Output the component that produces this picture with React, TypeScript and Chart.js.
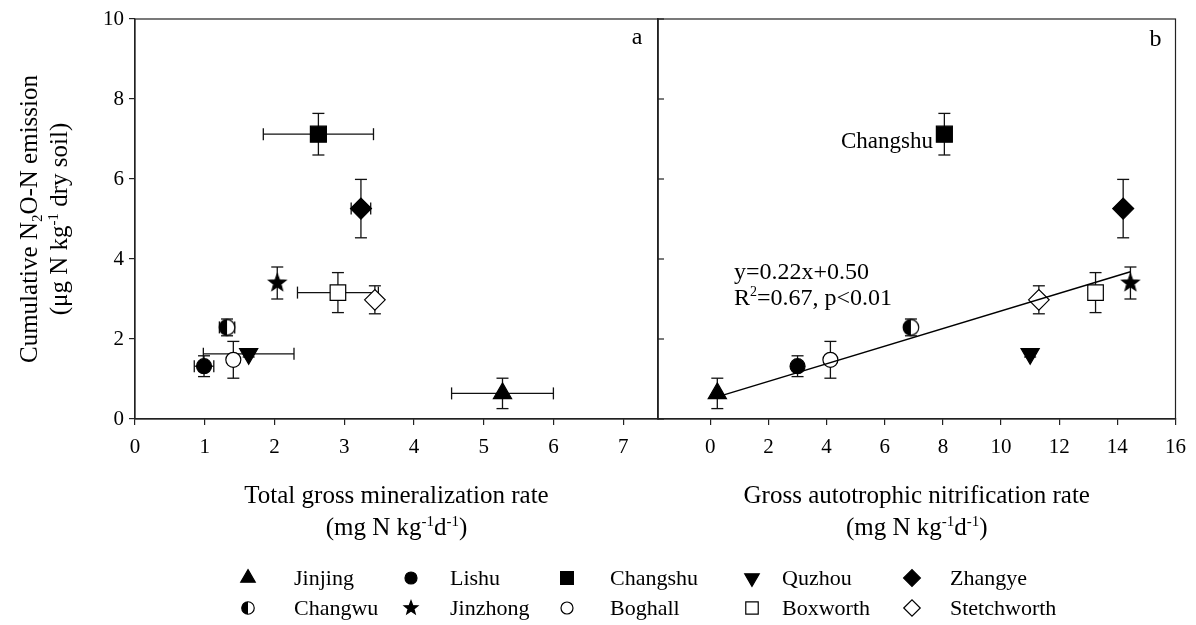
import React, { useEffect, useRef } from 'react';
import { Chart, registerables } from 'chart.js';

Chart.register(...registerables);

const W = 1196;
const H = 625;
const FONT = '"Liberation Serif", "Times New Roman", Times, serif';

// Sites, in legend order
const SITES = ['Jinjing', 'Lishu', 'Changshu', 'Quzhou', 'Zhangye', 'Changwu', 'Jinzhong', 'Boghall', 'Boxworth', 'Stetchworth'];

// Cumulative N2O-N emission (µg N kg-1 dry soil) and its standard error
const N2O = [0.64, 1.32, 7.12, 1.63, 5.26, 2.29, 3.4, 1.48, 3.16, 2.98];
const N2O_ERR = [0.38, 0.26, 0.52, 0.08, 0.73, 0.21, 0.4, 0.46, 0.5, 0.35];

// Panel a: total gross mineralization rate (mg N kg-1 d-1) and its standard error
const MINERALIZATION = [5.27, 0.99, 2.63, 1.63, 3.24, 1.32, 2.04, 1.41, 2.91, 3.44];
const MINERALIZATION_ERR = [0.73, 0.14, 0.79, 0.65, 0.14, 0.11, 0, 0, 0.58, 0.05];

// Panel b: gross autotrophic nitrification rate (mg N kg-1 d-1)
const NITRIFICATION = [0.24, 3.0, 8.05, 11.0, 14.2, 6.9, 14.45, 4.13, 13.25, 11.3];

// Linear fit shown in panel b
const FIT_SLOPE = 0.22;
const FIT_INTERCEPT = 0.5;
const FIT_X_RANGE = [0.24, 14.45];

// Axis ticks
const Y_TICKS = [0, 2, 4, 6, 8, 10];
const MIN_TICKS = [0, 1, 2, 3, 4, 5, 6, 7];
const NIT_TICKS = [0, 2, 4, 6, 8, 10, 12, 14, 16];

type Shape = 'triangle' | 'circle' | 'rect' | 'rectRot' | 'star' | 'half';
type Marker = { shape: Shape; filled: boolean; r: number; rot?: number };

const MARKERS: Marker[] = [
  { shape: 'triangle', filled: true, r: 10.5 },
  { shape: 'circle', filled: true, r: 7.5 },
  { shape: 'rect', filled: true, r: 11.3 },
  { shape: 'triangle', filled: true, r: 10.5, rot: 180 },
  { shape: 'rectRot', filled: true, r: 10.5 },
  { shape: 'half', filled: true, r: 7.8 },
  { shape: 'star', filled: true, r: 9 },
  { shape: 'circle', filled: false, r: 7.5 },
  { shape: 'rect', filled: false, r: 11 },
  { shape: 'rectRot', filled: false, r: 10.3 },
];

type Seg = { t: string; sup?: boolean; sub?: boolean };

const Y_TITLE_1: Seg[] = [{ t: 'Cumulative N' }, { t: '2', sub: true }, { t: 'O-N emission' }];
const Y_TITLE_2: Seg[] = [{ t: '(μg N kg' }, { t: '-1', sup: true }, { t: ' dry soil)' }];
const RATE_UNIT: Seg[] = [{ t: '(mg N kg' }, { t: '-1', sup: true }, { t: 'd' }, { t: '-1', sup: true }, { t: ')' }];
const A_TITLE: Seg[] = [{ t: 'Total gross mineralization rate' }];
const B_TITLE: Seg[] = [{ t: 'Gross autotrophic nitrification rate' }];
const EQ_1: Seg[] = [{ t: `y=${FIT_SLOPE.toFixed(2)}x+${FIT_INTERCEPT.toFixed(2)}` }];
const EQ_2: Seg[] = [{ t: 'R' }, { t: '2', sup: true }, { t: '=0.67, p<0.01' }];

const LEGEND_MARK_X = [248, 411, 567, 752, 912];
const LEGEND_TEXT_X = [294, 450, 610, 782, 950];
const LEGEND_ROW_Y = [578, 608];

function drawRich(ctx: CanvasRenderingContext2D, segs: Seg[], x: number, y: number, size: number, align: 'left' | 'center' | 'right') {
  const small = Math.round(size * 0.6);
  const fontFor = (s: Seg) => `${s.sup || s.sub ? small : size}px ${FONT}`;
  const widths = segs.map((s) => {
    ctx.font = fontFor(s);
    return ctx.measureText(s.t).width;
  });
  const total = widths.reduce((a, b) => a + b, 0);
  let cx = align === 'center' ? x - total / 2 : align === 'right' ? x - total : x;
  ctx.textAlign = 'left';
  ctx.textBaseline = 'alphabetic';
  ctx.fillStyle = '#000';
  const base = y + size * 0.33;
  segs.forEach((s, i) => {
    ctx.font = fontFor(s);
    const dy = s.sup ? -size * 0.36 : s.sub ? size * 0.2 : 0;
    ctx.fillText(s.t, cx, base + dy);
    cx += widths[i];
  });
}

function drawMarker(ctx: CanvasRenderingContext2D, m: Marker, x: number, y: number, scale: number) {
  const r = m.r * scale;
  ctx.save();
  ctx.fillStyle = m.filled ? '#000' : '#fff';
  ctx.strokeStyle = '#000';
  ctx.lineWidth = 1.2;
  ctx.beginPath();
  if (m.shape === 'circle') {
    ctx.arc(x, y, r, 0, Math.PI * 2);
  } else if (m.shape === 'rect') {
    const s = r * Math.SQRT1_2;
    ctx.rect(x - s, y - s, 2 * s, 2 * s);
  } else if (m.shape === 'rectRot') {
    ctx.moveTo(x - r, y);
    ctx.lineTo(x, y - r);
    ctx.lineTo(x + r, y);
    ctx.lineTo(x, y + r);
    ctx.closePath();
  } else if (m.shape === 'triangle') {
    let a = ((m.rot || 0) * Math.PI) / 180;
    for (let k = 0; k < 3; k++) {
      const px = x + Math.sin(a) * r;
      const py = y - Math.cos(a) * r;
      if (k === 0) ctx.moveTo(px, py);
      else ctx.lineTo(px, py);
      a += (2 * Math.PI) / 3;
    }
    ctx.closePath();
  } else if (m.shape === 'star') {
    const inner = r * 0.42;
    for (let k = 0; k < 10; k++) {
      const a = (k * Math.PI) / 5;
      const rr = k % 2 === 0 ? r : inner;
      const px = x + Math.sin(a) * rr;
      const py = y - Math.cos(a) * rr;
      if (k === 0) ctx.moveTo(px, py);
      else ctx.lineTo(px, py);
    }
    ctx.closePath();
  } else if (m.shape === 'half') {
    ctx.fillStyle = '#fff';
    ctx.arc(x, y, r, 0, Math.PI * 2);
    ctx.fill();
    ctx.stroke();
    ctx.beginPath();
    ctx.fillStyle = '#000';
    ctx.arc(x, y, r, Math.PI / 2, (3 * Math.PI) / 2);
    ctx.closePath();
    ctx.fill();
    ctx.restore();
    return;
  }
  ctx.fill();
  ctx.stroke();
  ctx.restore();
}

function markerImage(m: Marker): HTMLCanvasElement {
  const size = Math.ceil(m.r * 2 + 4);
  const c = document.createElement('canvas');
  c.width = size;
  c.height = size;
  const ctx = c.getContext('2d')!;
  drawMarker(ctx, m, size / 2, size / 2, 1);
  return c;
}

function siteDatasets(xs: number[], xErr: number[] | null) {
  return SITES.map((name, i) => {
    const m = MARKERS[i];
    const style: any = m.shape === 'star' || m.shape === 'half' ? markerImage(m) : m.shape;
    return {
      label: name,
      data: [{ x: xs[i], y: N2O[i] }],
      pointStyle: style,
      pointRadius: m.r,
      pointHoverRadius: m.r,
      pointRotation: m.rot || 0,
      backgroundColor: m.filled ? '#000' : '#fff',
      borderColor: '#000',
      pointBorderWidth: 1.2,
      showLine: false,
      errX: xErr ? xErr[i] : 0,
      errY: N2O_ERR[i],
    };
  });
}

const errorBars = {
  id: 'errorBars',
  beforeDatasetsDraw(chart: any) {
    const { ctx } = chart;
    const xs = chart.scales.x;
    const ys = chart.scales.y;
    const cap = 6;
    ctx.save();
    ctx.strokeStyle = '#111';
    ctx.lineWidth = 1.3;
    const seg = (x1: number, y1: number, x2: number, y2: number) => {
      ctx.beginPath();
      ctx.moveTo(x1, y1);
      ctx.lineTo(x2, y2);
      ctx.stroke();
    };
    chart.data.datasets.forEach((ds: any) => {
      const ex = ds.errX || 0;
      const ey = ds.errY || 0;
      ds.data.forEach((p: any) => {
        const px = xs.getPixelForValue(p.x);
        const py = ys.getPixelForValue(p.y);
        if (ey > 0) {
          const t = ys.getPixelForValue(p.y + ey);
          const b = ys.getPixelForValue(p.y - ey);
          seg(px, t, px, b);
          seg(px - cap, t, px + cap, t);
          seg(px - cap, b, px + cap, b);
        }
        if (ex > 0) {
          const l = xs.getPixelForValue(p.x - ex);
          const r = xs.getPixelForValue(p.x + ex);
          seg(l, py, r, py);
          seg(l, py - cap, l, py + cap);
          seg(r, py - cap, r, py + cap);
        }
      });
    });
    ctx.restore();
  },
};

const frame = {
  id: 'frame',
  afterDraw(chart: any) {
    const { ctx, chartArea: a } = chart;
    ctx.save();
    ctx.strokeStyle = '#222';
    ctx.lineWidth = 1.2;
    ctx.strokeRect(a.left, a.top, a.right - a.left, a.bottom - a.top);
    ctx.restore();
  },
};

const panelAText = {
  id: 'panelAText',
  afterDraw(chart: any) {
    const { ctx, chartArea: a } = chart;
    ctx.save();
    const cy = (a.top + a.bottom) / 2;
    ctx.translate(29, cy);
    ctx.rotate(-Math.PI / 2);
    drawRich(ctx, Y_TITLE_1, 0, 0, 25, 'center');
    ctx.restore();
    ctx.save();
    ctx.translate(59, cy);
    ctx.rotate(-Math.PI / 2);
    drawRich(ctx, Y_TITLE_2, 0, 0, 25, 'center');
    ctx.restore();
    const cx = (a.left + a.right) / 2;
    drawRich(ctx, A_TITLE, cx, 495, 25, 'center');
    drawRich(ctx, RATE_UNIT, cx, 527, 25, 'center');
    drawRich(ctx, [{ t: 'a' }], a.right - 21, 36, 24, 'center');
  },
};

const panelBText = {
  id: 'panelBText',
  afterDraw(chart: any) {
    const { ctx, chartArea: a } = chart;
    const ys = chart.scales.y;
    // inward ticks on the shared vertical axis
    ctx.save();
    ctx.strokeStyle = '#222';
    ctx.lineWidth = 1.2;
    Y_TICKS.forEach((v) => {
      const py = ys.getPixelForValue(v);
      ctx.beginPath();
      ctx.moveTo(a.left, py);
      ctx.lineTo(a.left + 6, py);
      ctx.stroke();
    });
    ctx.restore();
    const cx = (a.left + a.right) / 2;
    drawRich(ctx, B_TITLE, cx, 495, 25, 'center');
    drawRich(ctx, RATE_UNIT, cx, 527, 25, 'center');
    drawRich(ctx, [{ t: 'b' }], a.right - 20, 38, 24, 'center');
    drawRich(ctx, [{ t: SITES[2] }], 933, 140, 23, 'right');
    drawRich(ctx, EQ_1, 734, 271, 24, 'left');
    drawRich(ctx, EQ_2, 734, 297, 24, 'left');
    // legend
    SITES.forEach((name, i) => {
      const row = i < 5 ? 0 : 1;
      const col = i % 5;
      const y = LEGEND_ROW_Y[row];
      drawMarker(ctx, MARKERS[i], LEGEND_MARK_X[col], y, 0.8);
      drawRich(ctx, [{ t: name }], LEGEND_TEXT_X[col], y, 22, 'left');
    });
  },
};

const tickFont = { family: FONT, size: 21 };

function xScale(min: number, max: number, ticks: number[]) {
  return {
    type: 'linear',
    min,
    max,
    afterBuildTicks: (s: any) => {
      s.ticks = ticks.map((v) => ({ value: v }));
    },
    afterFit: (s: any) => {
      s.height = H - 419;
    },
    ticks: { font: tickFont, color: '#000', padding: 10, maxRotation: 0, autoSkip: false },
    grid: { drawOnChartArea: false, drawTicks: true, tickLength: 6, color: '#222', lineWidth: 1.2 },
    border: { display: true, color: '#222', width: 1.2 },
  };
}

function yScale(showLabels: boolean) {
  return {
    type: 'linear',
    min: 0,
    max: 10,
    afterBuildTicks: (s: any) => {
      s.ticks = Y_TICKS.map((v) => ({ value: v }));
    },
    afterFit: (s: any) => {
      s.width = showLabels ? 135 : 0;
    },
    ticks: { display: showLabels, font: tickFont, color: '#000', padding: 5 },
    grid: { drawOnChartArea: false, drawTicks: showLabels, tickLength: 6, color: '#222', lineWidth: 1.2 },
    border: { display: true, color: '#222', width: 1.2 },
  };
}

const commonOptions = {
  responsive: false,
  animation: false as const,
  events: [] as any[],
  plugins: { legend: { display: false }, tooltip: { enabled: false } },
};

export default function App() {
  const refA = useRef<HTMLCanvasElement>(null);
  const refB = useRef<HTMLCanvasElement>(null);

  useEffect(() => {
    Chart.defaults.font.family = FONT;

    const chartA = new Chart(refA.current!, {
      type: 'scatter',
      data: { datasets: siteDatasets(MINERALIZATION, MINERALIZATION_ERR) as any },
      options: {
        ...commonOptions,
        layout: { padding: { left: 0, top: 19, right: W - 658, bottom: 0 } },
        scales: { x: xScale(0, 7.5, MIN_TICKS) as any, y: yScale(true) as any },
      },
      plugins: [errorBars, frame, panelAText],
    });

    const fit = FIT_X_RANGE.map((x) => ({ x, y: FIT_SLOPE * x + FIT_INTERCEPT }));
    const chartB = new Chart(refB.current!, {
      type: 'scatter',
      data: {
        datasets: [
          ...(siteDatasets(NITRIFICATION, null) as any),
          {
            label: 'fit',
            data: fit,
            showLine: true,
            pointRadius: 0,
            borderColor: '#000',
            borderWidth: 1.5,
            order: -1,
          },
        ],
      },
      options: {
        ...commonOptions,
        layout: { padding: { left: 658, top: 19, right: W - 1179, bottom: 0 } },
        scales: { x: xScale(-1.8, 16, NIT_TICKS) as any, y: yScale(false) as any },
      },
      plugins: [errorBars, frame, panelBText],
    });

    return () => {
      chartA.destroy();
      chartB.destroy();
    };
  }, []);

  return (
    <div style={{ position: 'absolute', left: 0, top: 0, width: W, height: H, background: '#fff' }}>
      <canvas ref={refA} width={W} height={H} style={{ position: 'absolute', left: 0, top: 0 }} />
      <canvas ref={refB} width={W} height={H} style={{ position: 'absolute', left: 0, top: 0 }} />
    </div>
  );
}
